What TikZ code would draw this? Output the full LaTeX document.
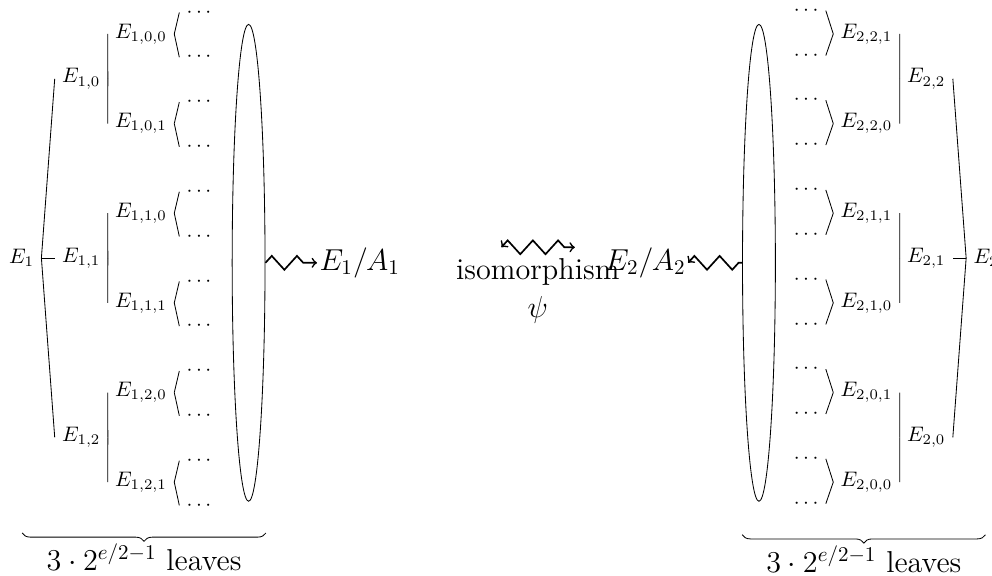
\documentclass[tikz,border=0pt]{standalone}
\usetikzlibrary{shapes.geometric,decorations.pathmorphing,decorations.pathreplacing}

\begin{document}
\begin{tikzpicture}[
    big/.style={font=\Large},
    leafset/.style={draw, ellipse, minimum width=0.55cm, minimum height=7.98cm, inner sep=0pt},
    zz/.style={decorate, thick, decoration={zigzag, amplitude=3.3pt, segment length=12pt}},
    zzend/.style={zz, decoration={post length=3pt}},
    brc/.style={decorate, decoration={brace, mirror, amplitude=4pt}}
  ]
  \useasboundingbox (-0.36,-5.305) rectangle (16.24,4.318);
  % left tree
  \node (E1) at (0,0) {$E_1$};
  \foreach \i in {0,1,2} {
    \node (E1\i) at (1,{3-3*\i}) {$E_{1,\i}$};
    \draw (E1.east) -- (E1\i.west);
    \foreach \j in {0,1} {
      \node (E1\i\j) at (2,{3.75-3*\i-1.5*\j}) {$E_{1,\i,\j}$};
      \draw (E1\i.east) -- (E1\i\j.west);
      \foreach \k in {0,1} {
        \node (L1\i\j\k) at (2.97,{4.11-3*\i-1.5*\j-0.75*\k}) {$\cdots$};
        \draw (E1\i\j.east) -- (L1\i\j\k.west);
      }
    }
  }
  % right tree
  \node (E2) at (16.14,0) {$E_2$};
  \foreach \i in {0,1,2} {
    \node (E2\i) at (15.14,{3*\i-3}) {$E_{2,\i}$};
    \draw (E2.west) -- (E2\i.east);
    \foreach \j in {0,1} {
      \node (E2\i\j) at (14.14,{3*\i-3.75+1.5*\j}) {$E_{2,\i,\j}$};
      \draw (E2\i.west) -- (E2\i\j.east);
      \foreach \k in {0,1} {
        \node (L2\i\j\k) at (13.13,{3*\i-4.11+1.5*\j+0.75*\k}) {$\cdots$};
        \draw (E2\i\j.west) -- (L2\i\j\k.east);
      }
    }
  }
  % leaves and quotients
  \node[leafset] (ell1) at (3.80,-0.08) {};
  \node[leafset] (ell2) at (12.34,-0.08) {};
  \node[big, inner sep=1pt] (q1) at (5.66,-0.08) {$E_1/A_1$};
  \node[big, inner sep=1pt] (q2) at (10.44,-0.08) {$E_2/A_2$};
  \draw[zzend,->] (ell1) -- (q1);
  \draw[zz,<-] (q2) -- (ell2);
  % isomorphism
  \node[big, align=center] (iso) at (8.64,-0.55) {isomorphism\\$\psi$};
  \coordinate (psiL) at (8.03,0.18);
  \coordinate (psiR) at (9.26,0.18);
  \draw[zz,<->] (psiL) -- (psiR);
  % braces
  \coordinate (b1a) at (0.01,-4.6);
  \coordinate (b1b) at (4.09,-4.6);
  \coordinate (b2a) at (12.06,-4.63);
  \coordinate (b2b) at (16.13,-4.63);
  \draw[brc] (b1a) -- node[below=1.5pt, big] (n1) {$3\cdot 2^{e/2-1}$ leaves} (b1b);
  \draw[brc] (b2a) -- node[below=1.5pt, big] (n2) {$3\cdot 2^{e/2-1}$ leaves} (b2b);
\end{tikzpicture}
\end{document}
